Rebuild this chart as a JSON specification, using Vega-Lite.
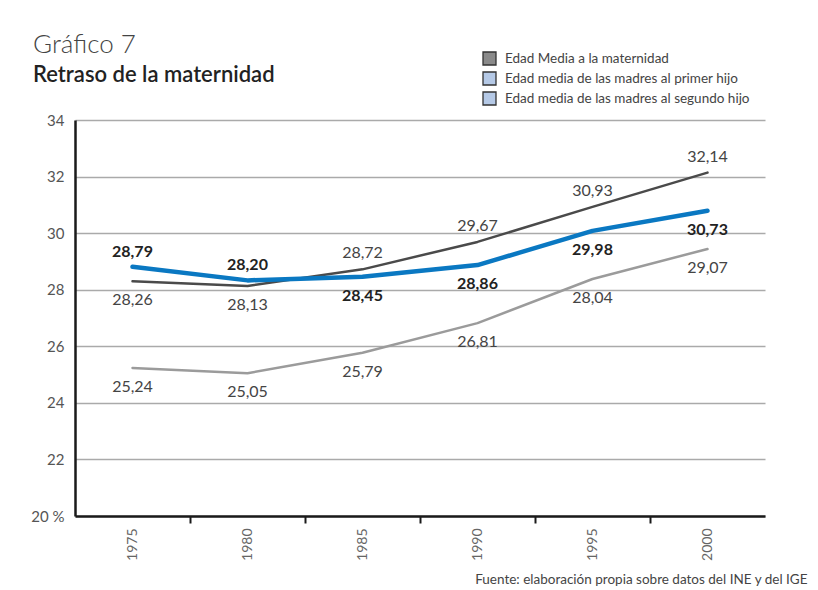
{
  "$schema": "https://vega.github.io/schema/vega-lite/v6.json",
  "autosize": "none",
  "width": 690,
  "height": 396,
  "padding": {"left": 75, "top": 120, "right": 53, "bottom": 74},
  "background": "white",
  "config": {
    "font": "Lato",
    "view": {"stroke": null}
  },
  "title": {
    "text": "Gráfico 7",
    "subtitle": "Retraso de la maternidad",
    "anchor": "start",
    "frame": "group",
    "dx": -42,
    "offset": -35,
    "font": "Lato",
    "fontSize": 26,
    "fontWeight": 300,
    "color": "#444444",
    "subtitleFont": "Lato",
    "subtitleFontSize": 22,
    "subtitleFontWeight": 600,
    "subtitleColor": "#222222",
    "subtitlePadding": 7
  },
  "data": {
    "values": [
      {"year": 1975, "serie": "Edad Media a la maternidad", "valor": 28.30, "etiqueta": "28,26"},
      {"year": 1980, "serie": "Edad Media a la maternidad", "valor": 28.13, "etiqueta": "28,13"},
      {"year": 1985, "serie": "Edad Media a la maternidad", "valor": 28.72, "etiqueta": "28,72"},
      {"year": 1990, "serie": "Edad Media a la maternidad", "valor": 29.69, "etiqueta": "29,67"},
      {"year": 1995, "serie": "Edad Media a la maternidad", "valor": 30.93, "etiqueta": "30,93"},
      {"year": 2000, "serie": "Edad Media a la maternidad", "valor": 32.14, "etiqueta": "32,14"},
      {"year": 1975, "serie": "Edad media de las madres al primer hijo", "valor": 28.81, "etiqueta": "28,79"},
      {"year": 1980, "serie": "Edad media de las madres al primer hijo", "valor": 28.33, "etiqueta": "28,20"},
      {"year": 1985, "serie": "Edad media de las madres al primer hijo", "valor": 28.46, "etiqueta": "28,45"},
      {"year": 1990, "serie": "Edad media de las madres al primer hijo", "valor": 28.87, "etiqueta": "28,86"},
      {"year": 1995, "serie": "Edad media de las madres al primer hijo", "valor": 30.08, "etiqueta": "29,98"},
      {"year": 2000, "serie": "Edad media de las madres al primer hijo", "valor": 30.79, "etiqueta": "30,73"},
      {"year": 1975, "serie": "Edad media de las madres al segundo hijo", "valor": 25.23, "etiqueta": "25,24"},
      {"year": 1980, "serie": "Edad media de las madres al segundo hijo", "valor": 25.05, "etiqueta": "25,05"},
      {"year": 1985, "serie": "Edad media de las madres al segundo hijo", "valor": 25.77, "etiqueta": "25,79"},
      {"year": 1990, "serie": "Edad media de las madres al segundo hijo", "valor": 26.82, "etiqueta": "26,81"},
      {"year": 1995, "serie": "Edad media de las madres al segundo hijo", "valor": 28.38, "etiqueta": "28,04"},
      {"year": 2000, "serie": "Edad media de las madres al segundo hijo", "valor": 29.44, "etiqueta": "29,07"}
    ]
  },
  "encoding": {
    "x": {"field": "year", "type": "quantitative", "scale": {"domain": [1972.5, 2002.5], "nice": false, "zero": false}},
    "y": {"field": "valor", "type": "quantitative", "scale": {"domain": [20, 34], "nice": false, "zero": false},
      "axis": {
        "title": null,
        "values": [20, 22, 24, 26, 28, 30, 32, 34],
        "labelExpr": "datum.value == 20 ? '20 %' : datum.label",
        "grid": true, "gridColor": "#aaaaaa", "gridWidth": 1.5,
        "domain": true, "domainColor": "#1a1a1a", "domainWidth": 2.5,
        "ticks": false, "labelPadding": 11,
        "labelFont": "Lato", "labelFontSize": 15, "labelColor": "#555555"
      }
    }
  },
  "layer": [
    {
      "mark": {"type": "point", "filled": true, "shape": "square", "opacity": 0},
      "encoding": {
        "x": {"field": "year", "type": "quantitative",
          "axis": {
            "orient": "bottom",
            "values": [1975, 1980, 1985, 1990, 1995, 2000],
            "format": "d",
            "labelAngle": 270,
            "labelAlign": "right",
            "labelBaseline": "middle",
            "labelPadding": 12,
            "labelFont": "Lato", "labelFontSize": 14, "labelColor": "#666666",
            "ticks": false, "grid": false,
            "domain": true, "domainColor": "#1a1a1a", "domainWidth": 2.5,
            "title": "Fuente: elaboración propia sobre datos del INE y del IGE",
            "titleFont": "Lato", "titleFontSize": 13.5, "titleFontWeight": "normal", "titleColor": "#444444",
            "titleAnchor": "end", "titleAlign": "right", "titleBaseline": "alphabetic",
            "titleX": 732, "titleY": 67
          }
        },
        "fill": {"field": "serie", "type": "nominal",
          "scale": {"domain": ["Edad Media a la maternidad", "Edad media de las madres al primer hijo", "Edad media de las madres al segundo hijo"],
                    "range": ["#8a8a8a", "#b5c9e6", "#b5c9e6"]},
          "legend": {
            "title": null,
            "orient": "none",
            "legendX": 407,
            "legendY": -69,
            "symbolType": "square",
            "symbolSize": 169,
            "symbolOpacity": 1,
            "symbolStrokeColor": "#333333",
            "symbolStrokeWidth": 1.3,
            "labelFont": "Lato", "labelFontSize": 13.5, "labelColor": "#444444",
            "labelLimit": 400,
            "labelOffset": 8,
            "rowPadding": 1,
            "encode": {
              "symbols": {"update": {
                "stroke": {"value": "#333333"},
                "strokeWidth": {"value": 1.3},
                "opacity": {"value": 1}
              }}
            }
          }
        }
      }
    },
    {
      "transform": [{"filter": "datum.serie === 'Edad Media a la maternidad'"}],
      "mark": {"type": "line", "strokeCap": "round", "strokeJoin": "round", "color": "#4a4a4a", "strokeWidth": 2.5},
      "encoding": {
        "x": {"field": "year", "type": "quantitative", "axis": null}
      }
    },
    {
      "transform": [{"filter": "datum.serie === 'Edad media de las madres al primer hijo'"}],
      "mark": {"type": "line", "strokeCap": "round", "strokeJoin": "round", "color": "#0a78c2", "strokeWidth": 4.5},
      "encoding": {
        "x": {"field": "year", "type": "quantitative", "axis": null}
      }
    },
    {
      "transform": [{"filter": "datum.serie === 'Edad media de las madres al segundo hijo'"}],
      "mark": {"type": "line", "strokeCap": "round", "strokeJoin": "round", "color": "#9b9b9b", "strokeWidth": 2.5},
      "encoding": {
        "x": {"field": "year", "type": "quantitative", "axis": null}
      }
    },
    {
      "transform": [{"filter": "datum.serie === 'Edad Media a la maternidad' && datum.year >= 1985"}],
      "mark": {"type": "text", "dy": -16, "baseline": "middle", "align": "center", "fontSize": 16, "font": "Lato", "color": "#444444"},
      "encoding": {
        "x": {"field": "year", "type": "quantitative",
          "axis": {
            "orient": "bottom",
            "values": [1977.5, 1982.5, 1987.5, 1992.5, 1997.5],
            "labels": false, "domain": false, "grid": false,
            "ticks": true, "tickSize": 7, "tickWidth": 2, "tickColor": "#1a1a1a",
            "title": null
          }
        },
        "text": {"field": "etiqueta", "type": "nominal"}
      }
    },
    {
      "transform": [{"filter": "datum.serie !== 'Edad media de las madres al primer hijo' && !(datum.serie === 'Edad Media a la maternidad' && datum.year >= 1985)"}],
      "mark": {"type": "text", "dy": 19, "baseline": "middle", "align": "center", "fontSize": 16, "font": "Lato", "color": "#444444"},
      "encoding": {
        "x": {"field": "year", "type": "quantitative", "axis": null},
        "text": {"field": "etiqueta", "type": "nominal"}
      }
    },
    {
      "transform": [{"filter": "datum.serie === 'Edad media de las madres al primer hijo' && datum.year <= 1980"}],
      "mark": {"type": "text", "dy": -15, "baseline": "middle", "align": "center", "fontSize": 16, "fontWeight": "bold", "font": "Lato", "color": "#222222"},
      "encoding": {
        "x": {"field": "year", "type": "quantitative", "axis": null},
        "text": {"field": "etiqueta", "type": "nominal"}
      }
    },
    {
      "transform": [{"filter": "datum.serie === 'Edad media de las madres al primer hijo' && datum.year >= 1985"}],
      "mark": {"type": "text", "dy": 19, "baseline": "middle", "align": "center", "fontSize": 16, "fontWeight": "bold", "font": "Lato", "color": "#222222"},
      "encoding": {
        "x": {"field": "year", "type": "quantitative", "axis": null},
        "text": {"field": "etiqueta", "type": "nominal"}
      }
    }
  ],
  "resolve": {"axis": {"x": "independent"}}
}
